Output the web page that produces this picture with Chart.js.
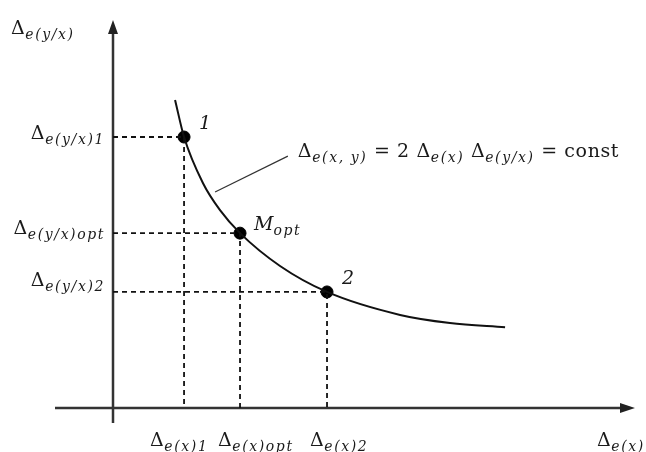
<!DOCTYPE html>
<html>
<head>
<meta charset="utf-8">
<script src="https://cdn.jsdelivr.net/npm/chart.js@4/dist/chart.umd.min.js"></script>
<style>
  html, body { margin: 0; padding: 0; background: #fff; }
  #wrap { width: 646px; height: 452px; }
</style>
</head>
<body>
<div id="wrap"><canvas id="chart" width="646" height="452"></canvas></div>
<script>
// curve Δe(y/x) against Δe(x)
const curveX = [2.14, 2.45, 3.10, 3.69, 4.38, 5.76, 7.38, 9.90, 11.62, 13.52];
const curveY = [10.32, 9.08, 7.54, 6.63, 5.86, 4.76, 3.89, 3.12, 2.85, 2.71];

// marked points: 1, Mopt, 2
const keyX = [2.45, 4.38, 7.38];
const keyY = [9.08, 5.86, 3.89];
const keyNames = ['1', 'M', '2'];
const keySubs = ['', 'opt', ''];

// tick labels (Δ + subscript)
const xTickSubs = ['e(x)1', 'e(x)opt', 'e(x)2'];
const yTickSubs = ['e(y/x)1', 'e(y/x)opt', 'e(y/x)2'];

// leader line from curve to the formula
const leaderX = [3.52, 6.03];
const leaderY = [7.24, 8.44];

const MAIN = '19px "DejaVu Serif"';
const SUB = 'italic 14px "DejaVu Serif"';

function setFont(ctx, sub) {
  ctx.font = sub ? SUB : MAIN;
  ctx.letterSpacing = sub ? '1.6px' : '0.6px';
}

function drawRich(ctx, parts, x, y, align) {
  let w = 0;
  parts.forEach(p => {
    setFont(ctx, p[1]);
    w += ctx.measureText(p[0]).width;
  });
  let cx = x;
  if (align === 'right') cx = x - w;
  if (align === 'center') cx = x - w / 2;
  parts.forEach(p => {
    setFont(ctx, p[1]);
    ctx.fillText(p[0], cx, p[1] ? y + 5 : y);
    cx += ctx.measureText(p[0]).width;
  });
  ctx.letterSpacing = '0px';
}

const schemePlugin = {
  id: 'scheme',
  beforeDatasetsDraw(chart) {
    const ctx = chart.ctx;
    const xs = chart.scales.x, ys = chart.scales.y;
    const a = chart.chartArea;
    const ox = xs.getPixelForValue(0), oy = ys.getPixelForValue(0);
    ctx.save();
    ctx.strokeStyle = '#333';
    ctx.fillStyle = '#222';
    ctx.lineWidth = 2.5;
    ctx.beginPath();
    ctx.moveTo(a.left, oy); ctx.lineTo(a.right - 10, oy);
    ctx.moveTo(ox, a.bottom); ctx.lineTo(ox, a.top + 10);
    ctx.stroke();
    // arrow heads
    ctx.beginPath();
    ctx.moveTo(a.right, oy); ctx.lineTo(a.right - 15, oy - 5); ctx.lineTo(a.right - 15, oy + 5);
    ctx.closePath();
    ctx.moveTo(ox, a.top); ctx.lineTo(ox - 5, a.top + 14); ctx.lineTo(ox + 5, a.top + 14);
    ctx.closePath();
    ctx.fill();
    ctx.restore();
  },
  afterDatasetsDraw(chart) {
    const ctx = chart.ctx;
    const xs = chart.scales.x, ys = chart.scales.y;
    const a = chart.chartArea;
    const ox = xs.getPixelForValue(0), oy = ys.getPixelForValue(0);
    ctx.save();
    ctx.fillStyle = '#1a1a1a';
    ctx.textBaseline = 'alphabetic';

    // y tick labels
    const yShift = [2, 1, -6];
    yTickSubs.forEach((s, i) => {
      drawRich(ctx, [['Δ', false], [s, true]], ox - 8, ys.getPixelForValue(keyY[i]) + yShift[i], 'right');
    });
    // x tick labels
    const xShift = [-34, -22, -17];
    xTickSubs.forEach((s, i) => {
      drawRich(ctx, [['Δ', false], [s, true]], xs.getPixelForValue(keyX[i]) + xShift[i], oy + 38, 'left');
    });
    // axis titles
    drawRich(ctx, [['Δ', false], ['e(y/x)', true]], 11, a.top + 14, 'left');
    drawRich(ctx, [['Δ', false], ['e(x)', true]], 597, oy + 38, 'left');

    // point names
    keyNames.forEach((n, i) => {
      const px = xs.getPixelForValue(keyX[i]), py = ys.getPixelForValue(keyY[i]);
      const dx = i === 1 ? 14 : 15, dy = i === 1 ? -3 : -8;
      ctx.font = 'italic 19px "DejaVu Serif"';
      ctx.fillText(n, px + dx, py + dy);
      if (keySubs[i]) {
        const w = ctx.measureText(n).width;
        setFont(ctx, true);
        ctx.fillText(keySubs[i], px + dx + w, py + dy + 5);
        ctx.letterSpacing = '0px';
      }
    });

    // formula
    const lx = xs.getPixelForValue(leaderX[1]), ly = ys.getPixelForValue(leaderY[1]);
    drawRich(ctx, [
      ['Δ', false], ['e(x, y)', true], [' = 2 Δ', false], ['e(x)', true],
      [' Δ', false], ['e(y/x)', true], [' = const', false]
    ], lx + 10, ly + 1, 'left');
    ctx.restore();
  }
};

const guideSets = keyX.map((x, i) => ({
  type: 'line',
  data: [{ x: 0, y: keyY[i] }, { x: x, y: keyY[i] }, { x: x, y: 0 }],
  borderColor: '#111',
  borderWidth: 1.8,
  borderDash: [5, 4],
  pointRadius: 0,
  tension: 0
}));

new Chart(document.getElementById('chart'), {
  type: 'scatter',
  data: {
    datasets: [
      ...guideSets,
      {
        type: 'line',
        data: leaderX.map((x, i) => ({ x: x, y: leaderY[i] })),
        borderColor: '#333',
        borderWidth: 1.2,
        pointRadius: 0
      },
      {
        type: 'line',
        data: curveX.map((x, i) => ({ x: x, y: curveY[i] })),
        borderColor: '#111',
        borderWidth: 2,
        pointRadius: 0,
        cubicInterpolationMode: 'monotone'
      },
      {
        data: keyX.map((x, i) => ({ x: x, y: keyY[i] })),
        backgroundColor: '#000',
        borderColor: '#000',
        pointRadius: 6,
        pointHoverRadius: 6
      }
    ]
  },
  options: {
    responsive: false,
    animation: false,
    events: [],
    layout: { padding: { left: 55, right: 11, top: 20, bottom: 29 } },
    plugins: { legend: { display: false }, tooltip: { enabled: false } },
    scales: {
      x: { type: 'linear', min: -2, max: 18, display: false },
      y: { type: 'linear', min: -0.5, max: 13, display: false }
    }
  },
  plugins: [schemePlugin]
});
</script>
</body>
</html>
